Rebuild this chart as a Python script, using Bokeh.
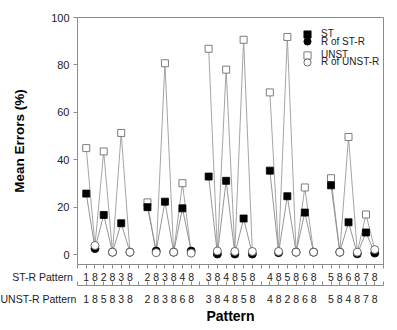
from bokeh.plotting import figure
from bokeh.models import (LinearAxis, FixedTicker, Range1d, Legend, LegendItem)
from bokeh.embed import file_html
from bokeh.resources import INLINE

# ---- data ----
st_r_labels = [["1", "8", "2", "8", "3", "8"],
               ["2", "8", "3", "8", "4", "8"],
               ["3", "8", "4", "8", "5", "8"],
               ["4", "8", "5", "8", "6", "8"],
               ["5", "8", "6", "8", "7", "8"]]
unst_r_labels = [["1", "8", "5", "8", "3", "8"],
                 ["2", "8", "3", "8", "6", "8"],
                 ["3", "8", "4", "8", "5", "8"],
                 ["4", "8", "2", "8", "6", "8"],
                 ["5", "8", "4", "8", "7", "8"]]
st = [[25.7, 16.7, 13.2], [20.0, 22.3, 19.5], [32.9, 31.1, 15.2],
      [35.4, 24.6, 17.7], [29.2, 13.6, 9.3]]
r_of_st_r = [[2.5, 1.0, 1.0], [1.5, 1.0, 1.5], [0.2, 0.2, 0.2],
             [0.8, 1.0, 1.0], [1.0, 0.3, 0.6]]
unst = [[44.9, 43.5, 51.3], [22.0, 80.7, 30.1], [86.8, 78.0, 90.6],
        [68.4, 91.8, 28.3], [32.2, 49.6, 16.9]]
r_of_unst_r = [[3.8, 1.0, 1.0], [0.8, 1.0, 0.6], [1.5, 1.3, 1.3],
               [1.3, 1.0, 1.0], [1.0, 1.0, 2.1]]
y_ticks = [0, 20, 40, 60, 80, 100]
row_titles = ["ST-R Pattern", "UNST-R Pattern"]

FONT = "Liberation Sans"
TXT = "#222222"
GREY = "#8c8c8c"
NBSP = "\u00a0"

n_groups = len(st)
per_group = 6
gap = 1
def xpos(g, i):
    return g * (per_group + gap) + i + 1

x_max = n_groups * (per_group + gap)

p = figure(width=397, height=330, output_backend="svg", toolbar_location=None,
           x_range=Range1d(0, x_max), y_range=Range1d(-4.2, 100),
           min_border_left=77, min_border_right=14, min_border_top=17, min_border_bottom=66,
           x_axis_location=None, y_axis_location=None)
p.xgrid.visible = False
p.ygrid.visible = False
p.outline_line_color = GREY
p.outline_line_width = 1
p.background_fill_color = "white"
p.border_fill_color = "white"

# zigzag lines per group
st_xs, st_ys, un_xs, un_ys = [], [], [], []
for g in range(n_groups):
    xs = [xpos(g, i) for i in range(per_group)]
    ys1, ys2 = [], []
    for k in range(3):
        ys1 += [st[g][k], r_of_st_r[g][k]]
        ys2 += [unst[g][k], r_of_unst_r[g][k]]
    st_xs.append(xs); st_ys.append(ys1)
    un_xs.append(xs); un_ys.append(ys2)

p.multi_line(un_xs, un_ys, line_color="#9a9a9a", line_width=0.9)
p.multi_line(st_xs, st_ys, line_color="#8a8a8a", line_width=0.9)

def pts(vals, offs):
    xs, ys = [], []
    for g in range(n_groups):
        for k in range(3):
            xs.append(xpos(g, 2 * k + offs))
            ys.append(vals[g][k])
    return xs, ys

x1, y1 = pts(unst, 0)
r_unst = p.scatter(x1, y1, marker="square", size=7, fill_color="white",
                   line_color="#6e6e6e", line_width=0.9)
x2, y2 = pts(st, 0)
r_st = p.scatter(x2, y2, marker="square", size=7, fill_color="black",
                 line_color="black", line_width=0.8)
x3, y3 = pts(r_of_st_r, 1)
r_rst = p.scatter(x3, y3, marker="circle", size=8, fill_color="black",
                  line_color="black", line_width=0.8)
x4, y4 = pts(r_of_unst_r, 1)
r_runst = p.scatter(x4, y4, marker="circle", size=8, fill_color="white",
                    line_color="#5a5a5a", line_width=0.9)

# y axis
yax = LinearAxis(ticker=FixedTicker(ticks=y_ticks), axis_label="Mean Errors (%)")
yax.axis_line_color = GREY
yax.major_tick_line_color = GREY
yax.minor_tick_line_color = None
yax.major_tick_out = 4
yax.major_tick_in = 0
yax.major_label_text_font = FONT
yax.major_label_text_font_size = "11px"
yax.major_label_text_color = TXT
yax.major_label_standoff = 4
yax.axis_label_text_font = FONT
yax.axis_label_text_font_size = "13.5px"
yax.axis_label_text_font_style = "bold"
yax.axis_label_text_color = "black"
yax.axis_label_standoff = 21
p.add_layout(yax, "left")

# x axes; the row title sits on the tick at the frame edge, padded with
# non-breaking spaces so that its visible part ends just left of the frame
ticks = list(range(0, x_max + 1))
ov1, ov2 = {}, {}
for t in ticks:
    ov1[t] = ""
    ov2[t] = ""
for g in range(n_groups):
    for i in range(per_group):
        ov1[xpos(g, i)] = st_r_labels[g][i]
        ov2[xpos(g, i)] = unst_r_labels[g][i]
ov1[0] = row_titles[0] + NBSP * 24
ov2[0] = row_titles[1] + NBSP * 29

def style_x(ax, tick_out, tick_in, standoff):
    ax.axis_line_color = GREY
    ax.major_tick_line_color = GREY
    ax.minor_tick_line_color = None
    ax.major_tick_out = tick_out
    ax.major_tick_in = tick_in
    ax.major_label_text_font = FONT
    ax.major_label_text_font_size = "10.5px"
    ax.major_label_text_color = TXT
    ax.major_label_standoff = standoff

xax1 = LinearAxis(ticker=FixedTicker(ticks=ticks), major_label_overrides=ov1)
style_x(xax1, 4, 0, 2)
p.add_layout(xax1, "below")

xax2 = LinearAxis(ticker=FixedTicker(ticks=ticks), major_label_overrides=ov2,
                  axis_label="Pattern")
style_x(xax2, 0, 4, 7)
xax2.axis_label_text_font = FONT
xax2.axis_label_text_font_size = "14px"
xax2.axis_label_text_font_style = "bold"
xax2.axis_label_text_color = "black"
xax2.axis_label_standoff = 0
p.add_layout(xax2, "below")

def mk_legend(item, bottom):
    lg = Legend(items=[item], location=(221, bottom), orientation="vertical",
                glyph_width=18, glyph_height=18, label_height=18, spacing=0,
                padding=0, margin=0, label_standoff=5,
                label_text_font=FONT, label_text_font_size="10px",
                label_text_color=TXT,
                border_line_alpha=0, background_fill_alpha=0)
    p.add_layout(lg)

mk_legend(LegendItem(label="ST", renderers=[r_st]), 221.5)
mk_legend(LegendItem(label="R of ST-R", renderers=[r_rst]), 214)
mk_legend(LegendItem(label="UNST", renderers=[r_unst]), 200.5)
mk_legend(LegendItem(label="R of UNST-R", renderers=[r_runst]), 193.5)

open("out.html", "w").write(file_html(p, INLINE))
